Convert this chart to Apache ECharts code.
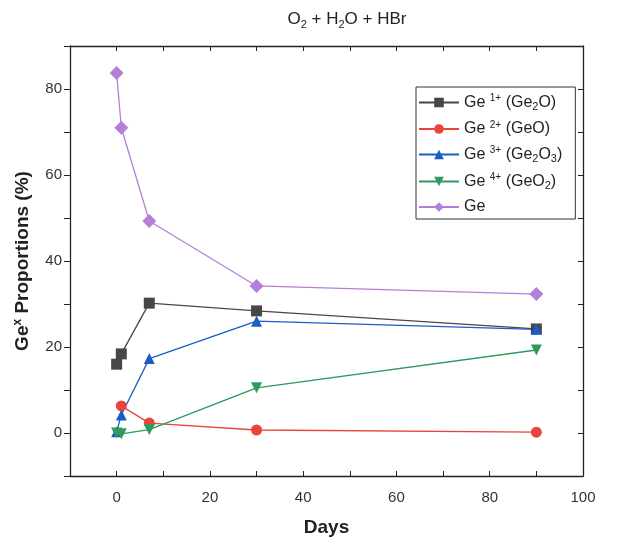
<!DOCTYPE html>
<html><head><meta charset="utf-8">
<script src="https://cdn.jsdelivr.net/npm/echarts@6/dist/echarts.min.js"></script>
<style>html,body{margin:0;padding:0;background:#fff}#c{width:621px;height:544px}</style>
</head><body><div id="c"></div>
<script>
const days = [0, 1, 7, 30, 90];
const ge2Days = [1, 7, 30, 90];
const ge1 = [16, 18.4, 30.2, 28.4, 24.2];
const ge2 = [6.3, 2.3, 0.7, 0.2];
const ge3 = [0.3, 4.2, 17.3, 26, 24.1];
const ge4 = [0, -0.2, 0.8, 10.5, 19.3];
const ge0 = [83.7, 71, 49.3, 34.2, 32.3];
const xTickLabels = [0, 20, 40, 60, 80, 100];
const yTickLabels = [0, 20, 40, 60, 80];
const seriesNames = ['ge1', 'ge2', 'ge3', 'ge4', 'ge'];

const FONT = 'Liberation Sans, Arial, sans-serif';
const pair = (xs, ys) => xs.map((x, i) => [x, ys[i]]);
const chart = echarts.init(document.getElementById('c'));
const legendRich = {
  n: {fontSize: 16, color: '#222', fontFamily: FONT},
  sup: {fontSize: 10, color: '#222', fontFamily: FONT, verticalAlign: 'top', padding: [0, 0, 8, 0]},
  sub: {fontSize: 11, color: '#222', fontFamily: FONT, padding: [8, 0, 0, 0]}
};
const legendLabels = {
  ge1: '{n|Ge }{sup|1+}{n| (Ge}{sub|2}{n|O)}',
  ge2: '{n|Ge }{sup|2+}{n| (GeO)}',
  ge3: '{n|Ge }{sup|3+}{n| (Ge}{sub|2}{n|O}{sub|3}{n|)}',
  ge4: '{n|Ge }{sup|4+}{n| (GeO}{sub|2}{n|)}',
  ge: '{n|Ge}'
};
const mk = (name, xs, ys, color, symbol, rotate) => ({
  name, type: 'line', data: pair(xs, ys), symbol, symbolSize: symbol === 'diamond' ? 14 : 11,
  symbolRotate: rotate || 0,
  lineStyle: {color, width: 1.3}, itemStyle: {color}, z: 3
});
const xCommon = {type: 'value', min: -10, max: 100, interval: 10,
  axisLine: {show: true, onZero: false, lineStyle: {color: '#222', width: 1.3}},
  splitLine: {show: false}};
const yCommon = {type: 'value', min: -10, max: 90, interval: 10,
  axisLine: {show: true, onZero: false, lineStyle: {color: '#222', width: 1.3}},
  splitLine: {show: false}};
chart.setOption({
  animation: false,
  title: {text: '{a|O}{s|2}{a| + H}{s|2}{a|O + HBr}', left: 342, top: 4, textAlign: 'center',
    textStyle: {fontWeight: 'normal', rich: {
      a: {fontSize: 17, color: '#222', fontFamily: FONT, fontWeight: 'normal'},
      s: {fontSize: 11, color: '#222', fontFamily: FONT, fontWeight: 'normal', padding: [10, 0, 0, 0]}
    }}},
  grid: {left: 70, right: 38, top: 46, bottom: 68},
  legend: {
    orient: 'vertical', left: 416, top: 87, itemWidth: 40, itemHeight: 12, itemGap: 8,
    borderColor: '#333', borderWidth: 1, padding: [6, 13, 4, 2], borderRadius: 0,
    data: seriesNames,
    formatter: n => legendLabels[n],
    textStyle: {rich: legendRich, fontSize: 16}
  },
  xAxis: [
    Object.assign({}, xCommon, {position: 'bottom',
      name: 'Days', nameLocation: 'middle', nameGap: 42,
      nameTextStyle: {fontSize: 19, fontWeight: 'bold', color: '#222', fontFamily: FONT},
      axisTick: {inside: true, length: 5, lineStyle: {color: '#222'}},
      axisLabel: {fontSize: 15, color: '#333', fontFamily: FONT, margin: 14,
        formatter: v => xTickLabels.includes(v) ? String(v) : ''}}),
    Object.assign({}, xCommon, {position: 'top',
      axisTick: {inside: true, length: 5, lineStyle: {color: '#222'}},
      axisLabel: {show: false}})
  ],
  yAxis: [
    Object.assign({}, yCommon, {position: 'left',
      name: '{b|Ge}{x|x}{b| Proportions (%)}', nameLocation: 'middle', nameGap: 36,
      nameTextStyle: {rich: {
        b: {fontSize: 19, fontWeight: 'bold', color: '#222', fontFamily: FONT},
        x: {fontSize: 12, fontWeight: 'bold', color: '#222', fontFamily: FONT, padding: [0, 0, 10, 0]}
      }},
      axisTick: {inside: false, length: 6, lineStyle: {color: '#222'}},
      axisLabel: {fontSize: 15, color: '#333', fontFamily: FONT, margin: 8,
        formatter: v => yTickLabels.includes(v) ? String(v) : ''}}),
    Object.assign({}, yCommon, {position: 'right',
      axisTick: {inside: true, length: 5, lineStyle: {color: '#222'}},
      axisLabel: {show: false}})
  ],
  series: [
    mk('ge1', days, ge1, '#474747', 'rect'),
    mk('ge2', ge2Days, ge2, '#e8453c', 'circle'),
    mk('ge3', days, ge3, '#1a5cc8', 'triangle'),
    mk('ge4', days, ge4, '#2e9a5c', 'triangle', 180),
    mk('ge', days, ge0, '#b47fd6', 'diamond')
  ]
});
</script></body></html>
